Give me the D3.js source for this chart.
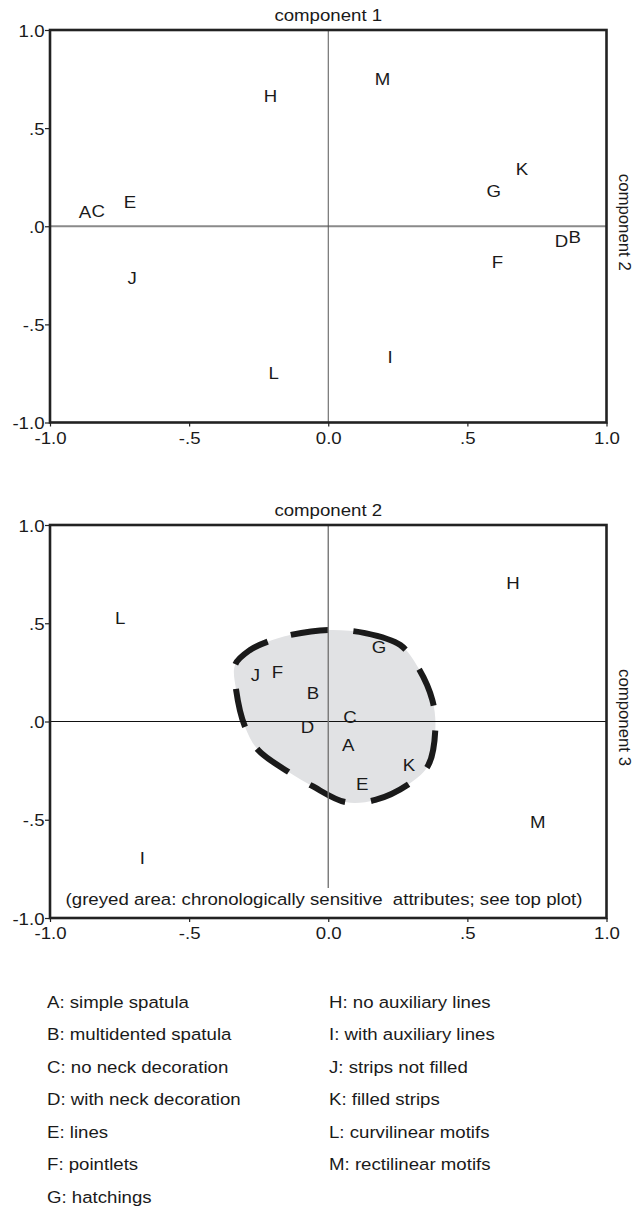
<!DOCTYPE html>
<html>
<head>
<meta charset="utf-8">
<script src="https://cdn.jsdelivr.net/npm/d3@7"></script>
<style>
  html, body { margin: 0; padding: 0; background: #fff; }
  svg text { font-family: "Liberation Sans", Arial, Helvetica, sans-serif; fill: #1a1a1a; }
</style>
</head>
<body>
<svg id="chart" width="643" height="1208"></svg>
<script>
// Component loadings per attribute
const attributes = ['A', 'B', 'C', 'D', 'E', 'F', 'G', 'H', 'I', 'J', 'K', 'L', 'M'];
const comp1 = [-0.874, 0.886, -0.827, 0.838, -0.713, 0.608, 0.595, -0.208, 0.222, -0.705, 0.696, -0.196, 0.195];
const comp2 = [0.072, -0.055, 0.078, -0.075, 0.122, -0.183, 0.182, 0.664, -0.668, -0.262, 0.29, -0.748, 0.753];
const comp3 = [-0.12, 0.145, 0.024, -0.026, -0.318, 0.253, 0.378, 0.703, -0.696, 0.237, -0.221, 0.525, -0.51];

// Outline of the greyed area (component 2 / component 3 space)
const sensitiveComp2 = [0, 0.133, 0.259, 0.324, 0.374, 0.385, 0.36, 0.295, 0.169, 0.061,
  -0.058, -0.137, -0.252, -0.299, -0.331, -0.335, -0.281, -0.22, -0.137];
const sensitiveComp3 = [0.466, 0.45, 0.389, 0.272, 0.109, -0.033, -0.221, -0.313, -0.399, -0.41,
  -0.328, -0.262, -0.145, -0.028, 0.16, 0.288, 0.364, 0.405, 0.44];

const tickValues = [-1, -0.5, 0, 0.5, 1];
const yTickLabels = ['-1.0', '-.5', '.0', '.5', '1.0'];
const xTickLabels = ['-1.0', '-.5', '0.0', '.5', '1.0'];

const legendLeft = ['A: simple spatula', 'B: multidented spatula', 'C: no neck decoration',
  'D: with neck decoration', 'E: lines', 'F: pointlets', 'G: hatchings'];
const legendRight = ['H: no auxiliary lines', 'I: with auxiliary lines', 'J: strips not filled',
  'K: filled strips', 'L: curvilinear motifs', 'M: rectilinear motifs'];

const noteText = '(greyed area: chronologically sensitive  attributes; see top plot)';

(function() {
  'use strict';

  const svg = d3.select('#chart');
  const FONT = 16.8;
  const STRETCH = 1.11; // the scan is a little wider than tall
  const left = 50, right = 606.5;

  // dash / gap lengths of the outline, starting right of the top centre
  const dashPattern = [56, 24, 39, 25, 38, 25, 41, 26, 39, 25, 39, 25, 39, 25, 40, 24, 38, 25];

  function drawPlot(cfg) {
    const x = d3.scaleLinear().domain([-1, 1]).range([left, right]);
    const y = d3.scaleLinear().domain([-1, 1]).range([cfg.bottom, cfg.top]);
    const g = svg.append('g');

    // Greyed area with thick dashed outline
    if (cfg.blob) {
      const line = d3.line()
        .x(d => x(d[0]))
        .y(d => y(d[1]))
        .curve(d3.curveCatmullRomClosed);
      const pts = sensitiveComp2.map((v, i) => [v, sensitiveComp3[i]]);
      // closed catmull-rom starts drawing at the 2nd point, so rotate by one
      const ring = [pts[pts.length - 1]].concat(pts.slice(0, -1));
      g.append('path')
        .attr('d', line(ring))
        .attr('fill', '#e1e2e4');
      const outline = g.append('path')
        .attr('d', line(ring))
        .attr('fill', 'none')
        .attr('stroke', '#1a1a1a')
        .attr('stroke-width', 6);
      // scale the pattern so it fits the real outline length
      const total = outline.node().getTotalLength();
      const k = total / d3.sum(dashPattern);
      outline
        .attr('stroke-dasharray', dashPattern.map(v => (v * k).toFixed(2)).join(' '))
        .attr('stroke-dashoffset', -dashPattern[dashPattern.length - 1] * k);
    }

    // Zero lines
    g.append('line')
      .attr('x1', left).attr('x2', right)
      .attr('y1', y(0)).attr('y2', y(0))
      .attr('stroke', cfg.hColor).attr('stroke-width', cfg.hWidth);
    g.append('line')
      .attr('x1', x(0)).attr('x2', x(0))
      .attr('y1', cfg.top).attr('y2', y(cfg.vEnd))
      .attr('stroke', cfg.vColor).attr('stroke-width', cfg.vWidth);

    // Axes
    g.append('g')
      .attr('transform', `translate(${left},0)`)
      .call(d3.axisLeft(y).tickValues(tickValues).tickFormat((d, i) => yTickLabels[i]).tickSize(5))
      .call(a => a.select('.domain').remove())
      .call(a => a.selectAll('line').attr('stroke', '#222').attr('stroke-width', 1.2))
      .call(a => a.selectAll('text')
        .attr('font-size', FONT)
        .attr('x', -5.5 / STRETCH)
        .attr('dy', '0.36em')
        .attr('transform', `scale(${STRETCH},1)`));

    g.append('g')
      .attr('transform', `translate(0,${cfg.bottom})`)
      .call(d3.axisBottom(x).tickValues(tickValues).tickFormat((d, i) => xTickLabels[i]).tickSize(4))
      .call(a => a.select('.domain').remove())
      .call(a => a.selectAll('line').attr('stroke', '#222').attr('stroke-width', 1.2))
      .call(a => a.selectAll('text')
        .attr('font-size', FONT)
        .attr('y', 9.3)
        .attr('transform', `scale(${STRETCH},1)`));

    // Frame
    g.append('rect')
      .attr('x', left).attr('y', cfg.top)
      .attr('width', right - left).attr('height', cfg.bottom - cfg.top)
      .attr('fill', 'none')
      .attr('stroke', '#222')
      .attr('stroke-width', 2.6);

    // Titles
    g.append('text')
      .attr('transform', `translate(${x(0)},${cfg.top - 9.5}) scale(${STRETCH},1)`)
      .attr('text-anchor', 'middle')
      .attr('font-size', FONT)
      .text(cfg.title);
    g.append('text')
      .attr('transform', `translate(625,${(cfg.top + cfg.bottom) / 2 - 4}) rotate(90)`)
      .attr('text-anchor', 'middle')
      .attr('dy', '0.36em')
      .attr('font-size', FONT)
      .text(cfg.sideTitle);

    // Attribute letters
    const pts = attributes.map((id, i) => ({ id, x: cfg.xs[i], y: cfg.ys[i] }));
    g.append('g')
      .selectAll('text')
      .data(pts)
      .join('text')
      .attr('transform', d => `translate(${x(d.x)},${y(d.y)}) scale(${STRETCH},1)`)
      .attr('text-anchor', 'middle')
      .attr('dy', '0.36em')
      .attr('font-size', FONT)
      .text(d => d.id);

    if (cfg.note) {
      g.append('text')
        .attr('transform', `translate(324,${cfg.bottom - 13}) scale(${STRETCH},1)`)
        .attr('text-anchor', 'middle')
        .attr('font-size', FONT)
        .style('white-space', 'pre')
        .text(cfg.note);
    }
  }

  drawPlot({
    top: 30, bottom: 422.5, xs: comp1, ys: comp2,
    title: 'component 1', sideTitle: 'component 2',
    hColor: '#8a8a8a', hWidth: 1.8, vColor: '#555', vWidth: 1, vEnd: -1
  });

  drawPlot({
    top: 525, bottom: 918, xs: comp2, ys: comp3,
    title: 'component 2', sideTitle: 'component 3',
    hColor: '#111', hWidth: 1, vColor: '#777', vWidth: 1.4, vEnd: -0.847,
    blob: true, note: noteText
  });

  // Legend
  const legend = svg.append('g');
  const rowY = i => 1001.7 + i * 32.5;
  [[legendLeft, 47], [legendRight, 329]].forEach(([items, lx]) => {
    legend.append('g')
      .selectAll('text')
      .data(items)
      .join('text')
      .attr('transform', (d, i) => `translate(${lx},${rowY(i)}) scale(${STRETCH},1)`)
      .attr('dy', '0.36em')
      .attr('font-size', FONT)
      .text(d => d);
  });
})();
</script>
</body>
</html>
